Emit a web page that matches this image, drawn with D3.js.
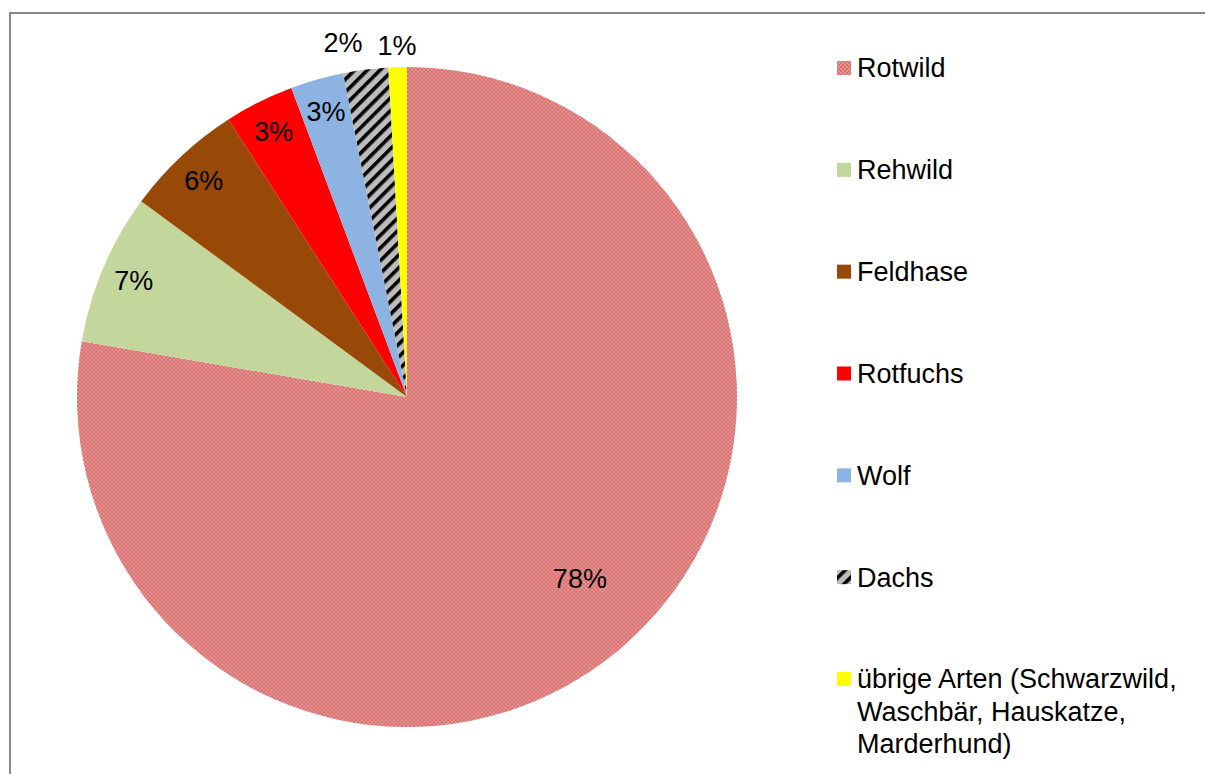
<!DOCTYPE html>
<html>
<head>
<meta charset="utf-8">
<script src="https://cdn.jsdelivr.net/npm/d3@7"></script>
<style>
  html, body { margin: 0; padding: 0; background: #fff; }
  svg { display: block; }
  text { font-family: "Liberation Sans", Arial, sans-serif; fill: #000; }
</style>
</head>
<body>
<svg id="chart" width="1205" height="774"></svg>
<script>
// Anteile der Wildarten (in %)
const categories = [
  "Rotwild",
  "Rehwild",
  "Feldhase",
  "Rotfuchs",
  "Wolf",
  "Dachs",
  "übrige Arten (Schwarzwild, Waschbär, Hauskatze, Marderhund)"
];
const shares = [77.7, 7.4, 5.8, 3.4, 2.6, 2.2, 0.9];
const fills = ["url(#pat-rotwild)", "#c3d69b", "#984807", "#ff0000", "#8db3e2", "url(#pat-dachs)", "#ffff00"];

const W = 1205, H = 774;
const cx = 407, cy = 397, R = 330;
const FS = 27;

const svg = d3.select("#chart");
const defs = svg.append("defs");

// fein karierte Füllung für Rotwild
const p1 = defs.append("pattern").attr("id", "pat-rotwild")
  .attr("patternUnits", "userSpaceOnUse").attr("width", 4).attr("height", 4);
p1.append("rect").attr("width", 4).attr("height", 4).attr("fill", "#d97070");
p1.append("rect").attr("width", 2).attr("height", 2).attr("fill", "#e69393");
p1.append("rect").attr("x", 2).attr("y", 2).attr("width", 2).attr("height", 2).attr("fill", "#e69393");

// diagonale Streifen für Dachs
const p2 = defs.append("pattern").attr("id", "pat-dachs")
  .attr("patternUnits", "userSpaceOnUse").attr("width", 9).attr("height", 9)
  .attr("patternTransform", "rotate(-45)");
p2.append("rect").attr("width", 9).attr("height", 9).attr("fill", "#bcbcbc");
p2.append("rect").attr("width", 9).attr("height", 3.6).attr("fill", "#000");

// Rahmen
svg.append("path")
  .attr("d", `M10,${H + 5} L10,13 L${W + 5},13`)
  .attr("fill", "none").attr("stroke", "#888").attr("stroke-width", 2);

const total = d3.sum(shares);
const data = categories.map((c, i) => ({ name: c, value: shares[i], fill: fills[i] }));

const pie = d3.pie().value(d => d.value).sort(null);
const arcs = pie(data);
const arc = d3.arc().innerRadius(0).outerRadius(R);

const g = svg.append("g").attr("transform", `translate(${cx},${cy})`);
g.selectAll("path.slice").data(arcs).join("path")
  .attr("class", "slice")
  .attr("d", arc)
  .attr("fill", d => d.data.fill);

// Beschriftungen der Segmente
const labels = arcs.map(a => {
  const pct = a.data.value / total * 100;
  let mid = (a.startAngle + a.endAngle) / 2;
  let rr, outside = false;
  if (pct > 50) { rr = R * 0.76; mid -= 0.06; }
  else if (pct >= 2.5) rr = R * 0.9;
  else { rr = R + 22; outside = true; }
  return { text: Math.round(pct) + "%", x: Math.sin(mid) * rr, y: -Math.cos(mid) * rr, outside };
});
// äußere Beschriftungen nicht überlappen lassen
const outs = labels.filter(l => l.outside).sort((a, b) => b.x - a.x);
for (let i = 1; i < outs.length; i++) {
  const minGap = 54;
  if (outs[i - 1].x - outs[i].x < minGap) {
    outs[i].x = outs[i - 1].x - minGap;
    outs[i].y -= 5;
  }
}
g.selectAll("text.lbl").data(labels).join("text")
  .attr("class", "lbl")
  .attr("x", d => d.x).attr("y", d => d.y)
  .attr("dy", "0.35em")
  .attr("text-anchor", "middle")
  .attr("font-size", FS)
  .text(d => d.text);

// Legende
const legY = d3.scalePoint().domain(categories).range([68, 679]);
const leg = svg.append("g");
data.forEach(d => {
  const y = legY(d.name);
  leg.append("rect").attr("x", 837).attr("y", y - 7).attr("width", 14).attr("height", 14).attr("fill", d.fill);
  const t = leg.append("text").attr("x", 857).attr("y", y).attr("font-size", FS);
  // Zeilenumbruch für lange Einträge
  const words = d.name.split(" ");
  let line = [];
  let tspan = t.append("tspan").attr("x", 857).attr("dy", "0.35em");
  words.forEach(w => {
    line.push(w);
    tspan.text(line.join(" "));
    if (tspan.node().getComputedTextLength() > 340 && line.length > 1) {
      line.pop();
      tspan.text(line.join(" "));
      line = [w];
      tspan = t.append("tspan").attr("x", 857).attr("dy", "1.19em").text(w);
    }
  });
});
</script>
</body>
</html>
